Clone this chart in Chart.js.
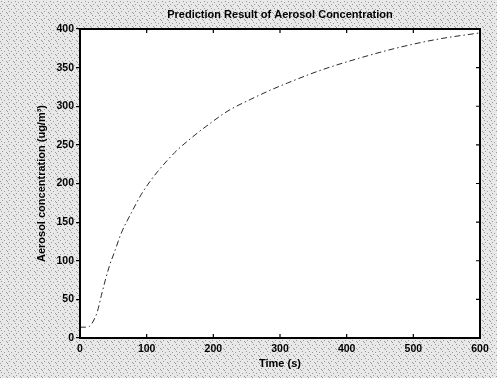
<!DOCTYPE html>
<html>
<head>
<meta charset="utf-8">
<script src="https://cdn.jsdelivr.net/npm/chart.js@4/dist/chart.umd.min.js"></script>
<style>
  html, body { margin: 0; padding: 0; background: #e2e2e2; }
  #wrap { width: 497px; height: 378px; }
</style>
</head>
<body>
<div id="wrap"><canvas id="chart" width="497" height="378"></canvas></div>
<script>
// Valeurs (temps en s, concentration en ug/m3)
const timeSec = [0, 8, 14, 20, 26, 32, 38, 44, 52, 62, 77, 92, 107, 117, 142, 167, 197, 222, 256, 286, 311, 359, 418, 478, 538, 600];
const concentration = [14, 14, 15, 22, 34, 55, 75, 93, 112, 136, 162, 186, 205, 216, 240, 259, 279, 294, 309, 321, 330, 346, 362, 376, 387, 395];
const xTicks = [0, 100, 200, 300, 400, 500, 600];
const yTicks = [0, 50, 100, 150, 200, 250, 300, 350, 400];

const points = timeSec.map((t, i) => ({ x: t, y: concentration[i] }));
const tickFont = { family: 'Liberation Sans, Arial, sans-serif', size: 10.5, weight: 'bold' };
const titleFont = { family: 'Liberation Sans, Arial, sans-serif', size: 11, weight: 'bold' };

// Fond gris tramé (comme le scan) et zone de tracé blanche
function makeHalftone(ctx) {
    const p = document.createElement('canvas');
    p.width = 7; p.height = 7;
    const pc = p.getContext('2d');
    pc.fillStyle = '#e8e8e8';
    pc.fillRect(0, 0, 7, 7);
    pc.fillStyle = '#9a9a9a';
    [[1, 1], [4, 2], [2, 4], [6, 5], [0, 6]].forEach(([a, b]) => pc.fillRect(a, b, 1, 1));
    return ctx.createPattern(p, 'repeat');
}

const framePlugin = {
    id: 'frame',
    beforeDraw(chart) {
        const { ctx, chartArea: a } = chart;
        ctx.save();
        ctx.fillStyle = makeHalftone(ctx);
        ctx.fillRect(0, 0, chart.width, chart.height);
        ctx.fillStyle = '#ffffff';
        ctx.fillRect(a.left, a.top, a.right - a.left, a.bottom - a.top);
        ctx.restore();
    },
    afterDraw(chart) {
        const { ctx, chartArea: a, scales } = chart;
        ctx.save();
        ctx.strokeStyle = '#000';
        ctx.lineWidth = 2;
        ctx.strokeRect(a.left, a.top, a.right - a.left, a.bottom - a.top);
        // petites graduations vers l'intérieur (haut, bas, droite)
        ctx.lineWidth = 1.2;
        ctx.beginPath();
        xTicks.forEach(v => {
            const x = scales.x.getPixelForValue(v);
            ctx.moveTo(x, a.bottom); ctx.lineTo(x, a.bottom - 4);
            ctx.moveTo(x, a.top); ctx.lineTo(x, a.top + 4);
        });
        yTicks.forEach(v => {
            const y = scales.y.getPixelForValue(v);
            ctx.moveTo(a.right, y); ctx.lineTo(a.right - 4, y);
        });
        ctx.stroke();
        ctx.restore();
    }
};

new Chart(document.getElementById('chart'), {
    type: 'line',
    data: {
        datasets: [{
            data: points,
            borderColor: '#2a2a2a',
            borderWidth: 1,
            borderDash: [6, 3, 1.5, 3],
            pointRadius: 0,
            fill: false,
            cubicInterpolationMode: 'monotone'
        }]
    },
    options: {
        responsive: false,
        animation: false,
        layout: { padding: { left: 35, right: 17, top: 0, bottom: 0 } },
        plugins: {
            legend: { display: false },
            tooltip: { enabled: false },
            title: {
                display: true,
                text: 'Prediction Result of Aerosol Concentration',
                color: '#000',
                font: titleFont,
                fullSize: false,
                padding: { top: 8.4, bottom: 7.4 }
            }
        },
        scales: {
            x: {
                type: 'linear',
                min: 0,
                max: 600,
                afterBuildTicks: s => { s.ticks = xTicks.map(v => ({ value: v })); },
                afterFit: s => { s.height = 40; },
                grid: { display: false, drawTicks: false },
                border: { display: true, color: '#000', width: 2 },
                ticks: { color: '#000', font: tickFont, padding: 5, maxRotation: 0 },
                title: {
                    display: true,
                    text: 'Time (s)',
                    color: '#000',
                    font: titleFont,
                    padding: { top: 0, bottom: 7.4 }
                }
            },
            y: {
                min: 0,
                max: 400,
                afterBuildTicks: s => { s.ticks = yTicks.map(v => ({ value: v })); },
                afterFit: s => { s.width = 45; },
                grid: { drawOnChartArea: false, drawTicks: true, tickLength: 4, color: '#000', lineWidth: 1.2 },
                border: { display: true, color: '#000', width: 2 },
                ticks: { color: '#000', font: tickFont, padding: 2 },
                title: {
                    display: true,
                    text: 'Aerosol concentration (ug/m\u00B3)',
                    color: '#000',
                    font: titleFont,
                    padding: { top: 0, bottom: 0 }
                }
            }
        }
    },
    plugins: [framePlugin]
});
</script>
</body>
</html>
